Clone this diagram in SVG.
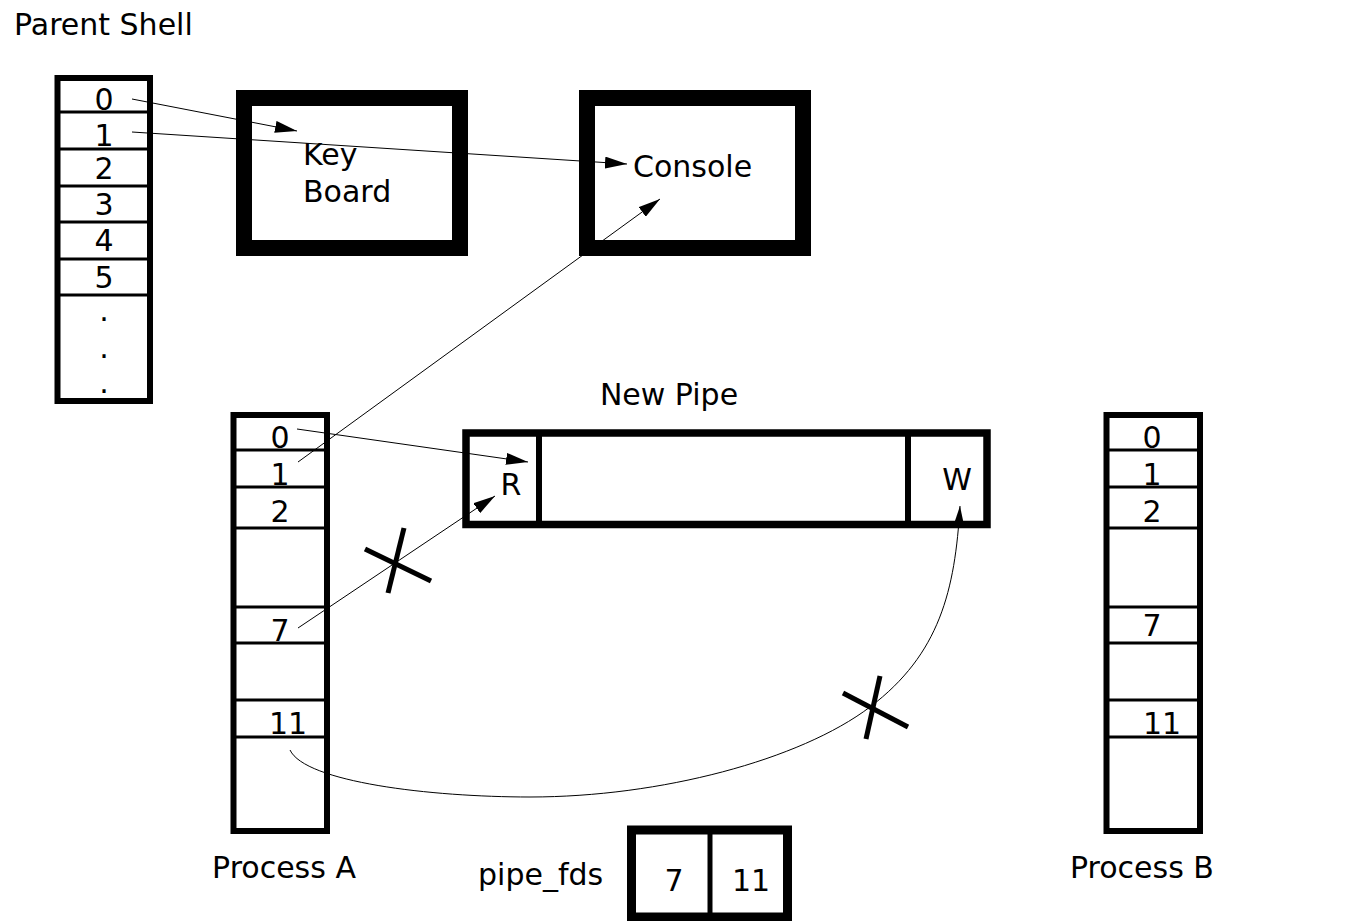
<svg xmlns="http://www.w3.org/2000/svg" width="1350" height="921" viewBox="0 0 1350 921">
<defs>
<style>
text{font-family:"DejaVu Sans","Liberation Sans",sans-serif;font-size:30px;fill:#000}
.c{text-anchor:middle}
.tbl{fill:#fff;stroke:#000;stroke-width:6}
.row{stroke:#000;stroke-width:3}
.dev{fill:#fff;stroke:#000;stroke-width:16}
.ln{fill:none;stroke:#000;stroke-width:1}
.x{stroke:#000;stroke-width:5}
</style>
<marker id="ah" markerUnits="userSpaceOnUse" markerWidth="22" markerHeight="12" refX="22" refY="6" orient="auto">
<path d="M0,0 L22,6 L0,12 z" fill="#000"/>
</marker>
</defs>
<rect width="1350" height="921" fill="#fff"/>

<g id="parent-shell">
<text x="14" y="35">Parent Shell</text>
<rect class="tbl" x="57.5" y="78" width="92.5" height="323"/>
<g class="row">
<line x1="57" y1="112" x2="150" y2="112"/>
<line x1="57" y1="149" x2="150" y2="149"/>
<line x1="57" y1="186" x2="150" y2="186"/>
<line x1="57" y1="222" x2="150" y2="222"/>
<line x1="57" y1="259" x2="150" y2="259"/>
<line x1="57" y1="295" x2="150" y2="295"/>
</g>
<text class="c" x="104" y="110">0</text>
<text class="c" x="104" y="146">1</text>
<text class="c" x="104" y="179">2</text>
<text class="c" x="104" y="215">3</text>
<text class="c" x="104" y="251">4</text>
<text class="c" x="104" y="288">5</text>
<text class="c" x="104" y="321">.</text>
<text class="c" x="104" y="358">.</text>
<text class="c" x="104" y="393">.</text>
</g>

<g id="keyboard">
<rect class="dev" x="244" y="98" width="216" height="150"/>
<text x="303" y="165">Key</text>
<text x="303" y="202">Board</text>
</g>

<g id="console">
<rect class="dev" x="587" y="98" width="216" height="150"/>
<text x="633" y="177">Console</text>
</g>

<g id="process-a">
<rect class="tbl" x="233.5" y="415" width="93.5" height="416"/>
<g class="row">
<line x1="233" y1="450" x2="327" y2="450"/>
<line x1="233" y1="487" x2="327" y2="487"/>
<line x1="233" y1="528" x2="327" y2="528"/>
<line x1="233" y1="607" x2="327" y2="607"/>
<line x1="233" y1="643" x2="327" y2="643"/>
<line x1="233" y1="700" x2="327" y2="700"/>
<line x1="233" y1="737" x2="327" y2="737"/>
</g>
<text class="c" x="280" y="448">0</text>
<text class="c" x="280" y="485">1</text>
<text class="c" x="280" y="522">2</text>
<text class="c" x="280" y="641">7</text>
<text class="c" x="288" y="734">11</text>
<text class="c" x="284" y="878">Process A</text>
</g>

<g id="new-pipe">
<text class="c" x="669" y="405">New Pipe</text>
<rect x="466" y="433" width="521" height="91.5" fill="#fff" stroke="#000" stroke-width="7.5"/>
<line x1="539" y1="433" x2="539" y2="524" stroke="#000" stroke-width="6"/>
<line x1="908" y1="433" x2="908" y2="524" stroke="#000" stroke-width="6"/>
<text class="c" x="511" y="495">R</text>
<text class="c" x="957" y="490">W</text>
</g>

<g id="process-b">
<rect class="tbl" x="1106.5" y="415" width="93.5" height="416"/>
<g class="row">
<line x1="1106" y1="450" x2="1200" y2="450"/>
<line x1="1106" y1="487" x2="1200" y2="487"/>
<line x1="1106" y1="528" x2="1200" y2="528"/>
<line x1="1106" y1="607" x2="1200" y2="607"/>
<line x1="1106" y1="643" x2="1200" y2="643"/>
<line x1="1106" y1="700" x2="1200" y2="700"/>
<line x1="1106" y1="737" x2="1200" y2="737"/>
</g>
<text class="c" x="1152" y="448">0</text>
<text class="c" x="1152" y="485">1</text>
<text class="c" x="1152" y="522">2</text>
<text class="c" x="1152" y="636">7</text>
<text class="c" x="1162" y="734">11</text>
<text class="c" x="1142" y="878">Process B</text>
</g>

<g id="pipe-fds">
<text x="478" y="885">pipe_fds</text>
<rect x="631.5" y="830" width="156" height="87" fill="#fff" stroke="#000" stroke-width="9"/>
<line x1="710" y1="830" x2="710" y2="917" stroke="#000" stroke-width="5"/>
<text class="c" x="674" y="891">7</text>
<text class="c" x="751" y="891">11</text>
</g>

<g id="connectors">
<line class="ln" x1="132" y1="99" x2="297" y2="131" marker-end="url(#ah)"/>
<line class="ln" x1="132" y1="132" x2="627" y2="164" marker-end="url(#ah)"/>
<line class="ln" x1="298" y1="462" x2="660" y2="199" marker-end="url(#ah)"/>
<line class="ln" x1="297" y1="429" x2="528" y2="462" marker-end="url(#ah)"/>
<line class="ln" x1="298" y1="628" x2="495" y2="496" marker-end="url(#ah)"/>
<path class="ln" d="M290,750 C305,782 430,797 530,797 C660,797 800,760 870,707 S955,590 960,506" marker-end="url(#ah)"/>
<line class="x" x1="365" y1="549" x2="431" y2="581"/>
<line class="x" x1="404" y1="528" x2="388" y2="593"/>
<line class="x" x1="843" y1="693" x2="908" y2="727"/>
<line class="x" x1="880" y1="676" x2="866" y2="739"/>
</g>
</svg>
